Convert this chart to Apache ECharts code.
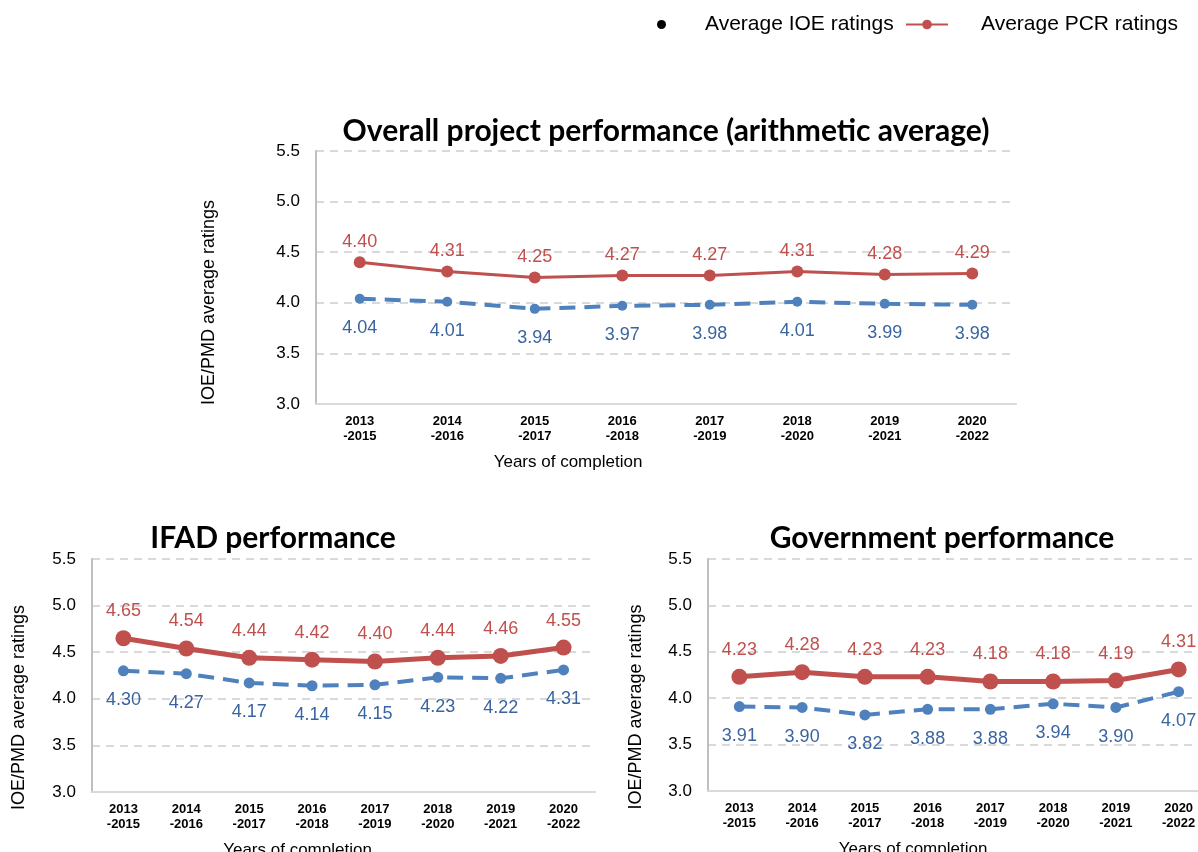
<!DOCTYPE html>
<html>
<head>
<meta charset="utf-8">
<script src="https://cdn.jsdelivr.net/npm/echarts@6/dist/echarts.min.js"></script>
<style>
  html, body { margin: 0; padding: 0; background: #fff; }
  #chart { width: 1198px; height: 852px; }
</style>
</head>
<body>
<div id="chart"></div>
<script>
var years = ["2013\n-2015", "2014\n-2016", "2015\n-2017", "2016\n-2018", "2017\n-2019", "2018\n-2020", "2019\n-2021", "2020\n-2022"]
var yTicks = [3.0, 3.5, 4.0, 4.5, 5.0, 5.5]

// 总体
var overallPCR = [4.40, 4.31, 4.25, 4.27, 4.27, 4.31, 4.28, 4.29]
var overallIOE = [4.04, 4.01, 3.94, 3.97, 3.98, 4.01, 3.99, 3.98]
// IFAD
var ifadPCR = [4.65, 4.54, 4.44, 4.42, 4.40, 4.44, 4.46, 4.55]
var ifadIOE = [4.30, 4.27, 4.17, 4.14, 4.15, 4.23, 4.22, 4.31]
// Government
var govPCR = [4.23, 4.28, 4.23, 4.23, 4.18, 4.18, 4.19, 4.31]
var govIOE = [3.91, 3.90, 3.82, 3.88, 3.88, 3.94, 3.90, 4.07]

var RED = "#c0504d"
var BLUE = "#4f81bd"
var BLUE_TXT = "#3a64a0"
var FONT = "'Liberation Sans', Arial, sans-serif"
var TITLE_FONT = "Lato, 'Open Sans', sans-serif"

var chart = echarts.init(document.getElementById("chart"))

// 三个网格
var grids = [
  { left: 316, top: 151, width: 700, height: 253, outerBoundsMode: "none" },
  { left: 92, top: 559, width: 503, height: 233, outerBoundsMode: "none" },
  { left: 708, top: 559, width: 502, height: 232, outerBoundsMode: "none" }
]
var nameGaps = [98, 64, 63]
var xShift = [196, 92, 92]
var yShift = [50, 64, 64]

var xAxes = grids.map(function (g, i) {
  return {
    type: "category",
    gridIndex: i,
    data: years,
    boundaryGap: true,
    axisTick: { show: false },
    axisLine: { lineStyle: { color: "#d9d9d9", width: 2 } },
    axisLabel: { color: "#000", fontFamily: FONT, fontWeight: "bold", fontSize: 13, lineHeight: 15, margin: 10 },
    name: "Years of completion",
    nameLocation: "middle",
    nameGap: 50,
    nameTextStyle: { color: "#000", fontFamily: FONT, fontSize: 17, padding: [0, xShift[i], 0, 0] }
  }
})

var yAxes = grids.map(function (g, i) {
  return {
    type: "value",
    gridIndex: i,
    min: 3.0,
    max: 5.5,
    interval: 0.5,
    axisLine: { show: true, lineStyle: { color: "#bfbfbf", width: 2 } },
    axisTick: { show: false },
    axisLabel: {
      color: "#000", fontFamily: FONT, fontSize: 17, margin: 16,
      formatter: function (v) { return v.toFixed(1) }
    },
    splitLine: { lineStyle: { color: "#d9d9d9", width: 2, type: [8, 6] } },
    name: "IOE/PMD average ratings",
    nameLocation: "middle",
    nameGap: nameGaps[i],
    nameTextStyle: { color: "#000", fontFamily: FONT, fontSize: 18, padding: [0, yShift[i], 0, 0] }
  }
})

function pcrSeries(data, idx, big) {
  return {
    name: "Average PCR ratings",
    type: "line",
    xAxisIndex: idx,
    yAxisIndex: idx,
    data: data,
    symbol: "circle",
    symbolSize: big ? 16 : 12,
    itemStyle: { color: RED },
    lineStyle: { color: RED, width: big ? 5 : 3 },
    label: {
      show: true, position: "top", distance: big ? 10 : 5,
      color: RED, fontFamily: FONT, fontSize: 18,
      formatter: function (p) { return p.value.toFixed(2) }
    },
    z: 3
  }
}

function ioeSeries(data, idx, big) {
  return {
    name: "Average IOE ratings",
    type: "line",
    xAxisIndex: idx,
    yAxisIndex: idx,
    data: data,
    symbol: "circle",
    symbolSize: big ? 11 : 10,
    itemStyle: { color: BLUE },
    lineStyle: { color: BLUE, width: 4, type: [16, 9] },
    label: {
      show: true, position: "bottom", distance: 15,
      color: BLUE_TXT, fontFamily: FONT, fontSize: 18,
      formatter: function (p) { return p.value.toFixed(2) }
    },
    z: 2
  }
}

var titleStyle = { fontFamily: TITLE_FONT, fontWeight: "bold", fontSize: 30, color: "#000" }

var option = {
  animation: false,
  title: [
    { text: "Overall project performance (arithmetic average)", left: 661, top: 111, textAlign: "center", textStyle: titleStyle },
    { text: "IFAD performance", left: 268, top: 518, textAlign: "center", textStyle: titleStyle },
    { text: "Government performance", left: 937, top: 518, textAlign: "center", textStyle: titleStyle }
  ],
  legend: [
    {
      left: 652, top: 9,
      itemWidth: 9, itemHeight: 9,
      data: [{ name: "Average IOE ratings", icon: "circle", itemStyle: { color: "#000" } }],
      textStyle: { color: "#000", fontFamily: FONT, fontSize: 21, padding: [0, 0, 0, 34] }
    },
    {
      left: 900, top: 9,
      itemWidth: 42, itemHeight: 12,
      data: ["Average PCR ratings"],
      textStyle: { color: "#000", fontFamily: FONT, fontSize: 21, padding: [0, 0, 0, 28] }
    }
  ],
  grid: grids,
  xAxis: xAxes,
  yAxis: yAxes,
  series: [
    ioeSeries(overallIOE, 0, false),
    pcrSeries(overallPCR, 0, false),
    ioeSeries(ifadIOE, 1, true),
    pcrSeries(ifadPCR, 1, true),
    ioeSeries(govIOE, 2, true),
    pcrSeries(govPCR, 2, true)
  ]
}

chart.setOption(option)
</script>
</body>
</html>
